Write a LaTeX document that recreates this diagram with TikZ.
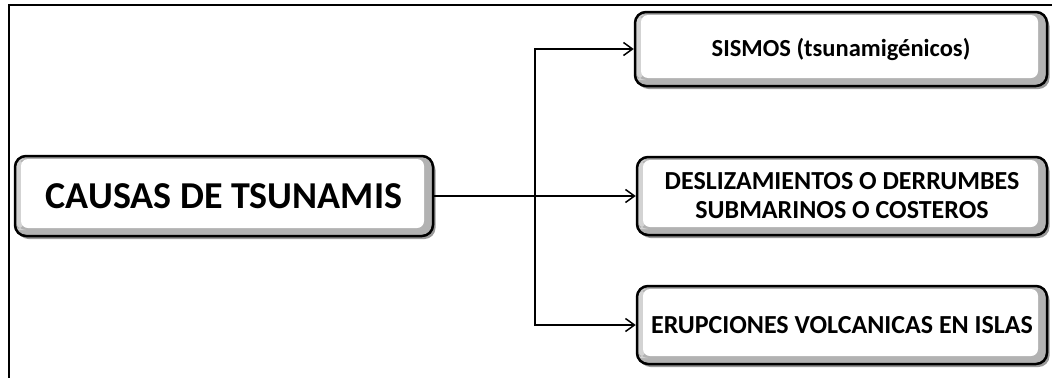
\documentclass[tikz,border=0pt]{standalone}
\usepackage{fontspec}
\setmainfont{Carlito}
\usetikzlibrary{arrows.meta,shadows}
\tikzset{
  boxsty/.style={draw=black, line width=2.5pt, rounded corners=11pt, fill=gray!60,
    font=\bfseries, align=center, inner sep=0pt,
    drop shadow={shadow xshift=2.5pt, shadow yshift=-3pt, fill=black, opacity=0.4},
    path picture={
      \shade[left color=gray!35, right color=white]
        ([yshift=6pt]path picture bounding box.south west) rectangle
        ([xshift=10pt,yshift=-3pt]path picture bounding box.north west);
      \fill[white, rounded corners=7pt]
        ([xshift=6pt,yshift=8pt]path picture bounding box.south west) rectangle
        ([xshift=-9pt,yshift=-3pt]path picture bounding box.north east);
    }},
  conn/.style={line width=1.5pt, black},
  arr/.style={conn, -{Straight Barb[length=9pt,width=13pt,line width=1.5pt]}},
  frame/.style={line width=2pt, black}
}
\begin{document}
\begin{tikzpicture}[x=1pt,y=-1pt]
\useasboundingbox (0,0) rectangle (1052,378);
% frame
\coordinate (ftr) at (1052,5);
\coordinate (ftl) at (8.5,5);
\coordinate (fbl) at (8.5,378);
\draw[frame] (ftr) -- (ftl) -- (fbl);
% boxes
\node[boxsty, minimum width=418pt, minimum height=80pt, font=\fontsize{38}{44}\selectfont\bfseries] (cause) at (224,196) {CAUSAS DE TSUNAMIS};
\node[boxsty, minimum width=412pt, minimum height=74pt, font=\fontsize{24.5}{29}\selectfont\bfseries] (sis) at (841,49) {SISMOS (tsunamigénicos)};
\node[boxsty, minimum width=410pt, minimum height=78pt, font=\fontsize{26}{29}\selectfont\bfseries] (desl) at (842,196) {DESLIZAMIENTOS O DERRUMBES\\SUBMARINOS O COSTEROS};
\node[boxsty, minimum width=410pt, minimum height=78pt, font=\fontsize{26}{29}\selectfont\bfseries] (erup) at (842,325) {ERUPCIONES VOLCANICAS EN ISLAS};
% connectors
\coordinate (j) at (535,196);
\draw[arr] (cause.east) -- (desl.west);
\draw[arr] (j) |- (sis.west);
\draw[arr] (j) |- (erup.west);
\end{tikzpicture}
\end{document}
